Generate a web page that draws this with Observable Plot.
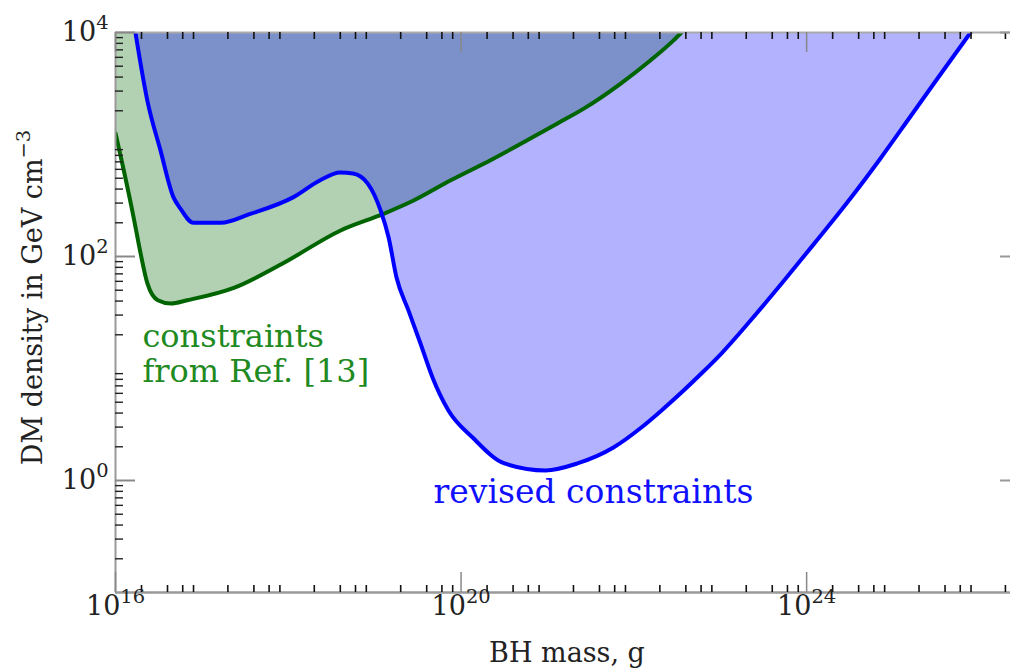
<!DOCTYPE html>
<html><head><meta charset="utf-8">
<script src="https://cdn.jsdelivr.net/npm/d3@7"></script>
<script src="https://cdn.jsdelivr.net/npm/@observablehq/plot@0.6"></script>
<style>body{margin:0;background:#fff} svg{display:block}</style>
</head><body><div id="chart"></div>
<script>
// constraints from Ref. [13] (green)
const greenMass = [1.0e16, 1.23e16, 1.62e16, 1.95e16, 2.34e16, 3.09e16, 4.37e16, 6.76e16, 2.34e17, 8.71e17, 3.98e18, 1.26e19, 2.82e19, 7.59e19, 2.19e20, 5.89e20, 1.32e21, 2.63e21, 6.92e21, 1.55e22, 2.88e22, 3.55e22];
const greenRho  = [1259, 617, 224, 107, 57.5, 40.7, 38.0, 40.7, 52.5, 87.1, 170, 240, 316, 479, 724, 1096, 1549, 2090, 3467, 5623, 8511, 10000];
// revised constraints (blue)
const blueMass = [1.70e16, 2.34e16, 3.31e16, 4.68e16, 5.62e16, 7.94e16, 1.66e17, 3.63e17, 1.15e18, 2.34e18, 3.98e18, 5.62e18, 8.32e18, 1.17e19, 1.45e19, 1.79e19, 2.46e19, 3.39e19, 4.67e19, 7.14e19, 1.36e20, 3.18e20, 9.48e20, 2.22e21, 5.81e21, 1.22e22, 2.09e22, 6.05e22, 1.03e23, 2.24e23, 5.25e23, 1.23e24, 2.89e24, 7.15e24, 1.59e25, 3.27e25, 7.9e25];
const blueRho  = [10000, 2455, 891, 339, 269, 200, 200, 240, 339, 479, 562, 550, 447, 258, 148, 64.9, 33.0, 16.7, 8.32, 4.22, 2.42, 1.42, 1.23, 1.42, 1.97, 2.97, 4.22, 9.02, 13.6, 26.8, 58.6, 131, 297, 750, 1778, 3882, 10000];

const xDomain = [1e16, 2.29e26];
const yDomain = [1e-1, 1e4];
const xMajor = [1e16, 1e20, 1e24];
const yMajor = [1e0, 1e2, 1e4];
const xMinorMantissa = [2, 4, 6, 8];
const yMinorMantissa = [2, 3, 4, 5, 6, 7, 8, 9];
const xDecades = [16, 17, 18, 19, 20, 21, 22, 23, 24, 25, 26];
const yDecades = [-1, 0, 1, 2, 3];
const xLabel = "BH mass, g";
const yLabel = "DM density in GeV cm^\u22123";
const greenText = "constraints\nfrom Ref. [13]";
const blueText = "revised constraints";
const greenTextAt = {x: 2.05e16, y: 7.5};
const blueTextAt = {x: 4.8e19, y: 0.624};

const green = greenMass.map((m, i) => ({m, rho: greenRho[i]}));
const blue = blueMass.map((m, i) => ({m, rho: blueRho[i]}));
const xMinor = xDecades.flatMap(k => xMinorMantissa.map(a => a * 10 ** k)).filter(v => v > xDomain[0] && v < xDomain[1]);
const yMinor = yDecades.flatMap(k => yMinorMantissa.map(a => a * 10 ** k)).filter(v => v > yDomain[0] && v < yDomain[1]);

const W = 1010, H = 669, mL = 115, mR = 0, mT = 32, mB = 77;
const plotW = W - mL - mR, plotH = H - mT - mB;
const FONT = "DejaVu Serif";
const sup = d => "10^" + Math.round(Math.log10(d));

const chart = Plot.plot({
  width: W, height: H,
  marginLeft: mL, marginRight: mR, marginTop: mT, marginBottom: mB,
  style: {fontFamily: FONT, background: "#fff", overflow: "visible"},
  x: {type: "log", domain: xDomain},
  y: {type: "log", domain: yDomain},
  marks: [
    Plot.areaY(green, {x: "m", y1: "rho", y2: yDomain[1], fill: "#006400", fillOpacity: 0.3, curve: "monotone-x", clip: true}),
    Plot.areaY(blue, {x: "m", y1: "rho", y2: yDomain[1], fill: "#0000ff", fillOpacity: 0.3, curve: "monotone-x", clip: true}),
    Plot.line(green, {x: "m", y: "rho", stroke: "#006400", strokeWidth: 4, curve: "monotone-x", clip: true}),
    Plot.line(blue, {x: "m", y: "rho", stroke: "#0000ff", strokeWidth: 4, curve: "monotone-x", clip: true}),
    // frame lines
    Plot.ruleY([yDomain[0]], {stroke: "#999", strokeWidth: 2.5}),
    Plot.ruleY([yDomain[1]], {stroke: "#aaa", strokeWidth: 2}),
    Plot.ruleX([xDomain[0]], {stroke: "#999", strokeWidth: 2}),
    // minor ticks
    Plot.tickX(xMinor, {x: d => d, insetTop: plotH - 7, stroke: "#111", strokeWidth: 1.6}),
    Plot.tickX(xMinor, {x: d => d, insetBottom: plotH - 7, stroke: "#111", strokeWidth: 1.6}),
    Plot.tickY(yMinor, {y: d => d, insetRight: plotW - 8, stroke: "#222", strokeWidth: 1.4}),
    // major ticks
    Plot.tickX(xMajor, {x: d => d, insetTop: plotH - 20, stroke: "#888", strokeWidth: 1.5}),
    Plot.tickX(xMajor, {x: d => d, insetBottom: plotH - 20, stroke: "#888", strokeWidth: 1.5}),
    Plot.tickY(yMajor, {y: d => d, insetRight: plotW - 20, stroke: "#888", strokeWidth: 2}),
    Plot.tickY(yMajor, {y: d => d, insetLeft: plotW - 10, stroke: "#999", strokeWidth: 2}),
    // tick labels
    Plot.axisX({ticks: xMajor, tickSize: 0, tickPadding: 3, tickFormat: sup, label: null, fill: "#222", fontSize: 27}),
    Plot.axisY({ticks: yMajor, tickSize: 0, tickPadding: 7, tickFormat: sup, label: null, fill: "#222", fontSize: 27}),
    // axis titles
    Plot.text([xLabel], {frameAnchor: "bottom", dx: 4, dy: 69, fontSize: 27, fill: "#222", lineAnchor: "bottom", textAnchor: "middle"}),
    Plot.text([yLabel], {frameAnchor: "left", dx: -82, dy: -15, rotate: -90, fontSize: 27, fill: "#222", textAnchor: "middle", lineAnchor: "middle"}),
    // annotations
    Plot.text([greenText], {x: () => greenTextAt.x, y: () => greenTextAt.y, textAnchor: "start", lineAnchor: "bottom", lineHeight: 1.1, fontSize: 32, fill: "#1f8a1f"}),
    Plot.text([blueText], {x: () => blueTextAt.x, y: () => blueTextAt.y, textAnchor: "start", lineAnchor: "bottom", fontSize: 33, fill: "#1010ff"})
  ]
});

// tick label font size (inline, to be sure)
chart.querySelectorAll('g[aria-label$="tick label"] text').forEach(t => {
  t.style.fontSize = "27px";
});
// superscripts for "10^n" and "cm^-3"
chart.querySelectorAll("text").forEach(t => {
  if (t.children.length) return;
  const m = t.textContent.match(/^(.*)\^(.+)$/);
  if (!m) return;
  t.textContent = "";
  t.append(document.createTextNode(m[1]));
  const ts = document.createElementNS("http://www.w3.org/2000/svg", "tspan");
  ts.setAttribute("dy", "-0.6em");
  ts.setAttribute("font-size", "0.72em");
  ts.textContent = m[2];
  t.append(ts);
});
document.getElementById("chart").append(chart);
</script>
</body></html>
